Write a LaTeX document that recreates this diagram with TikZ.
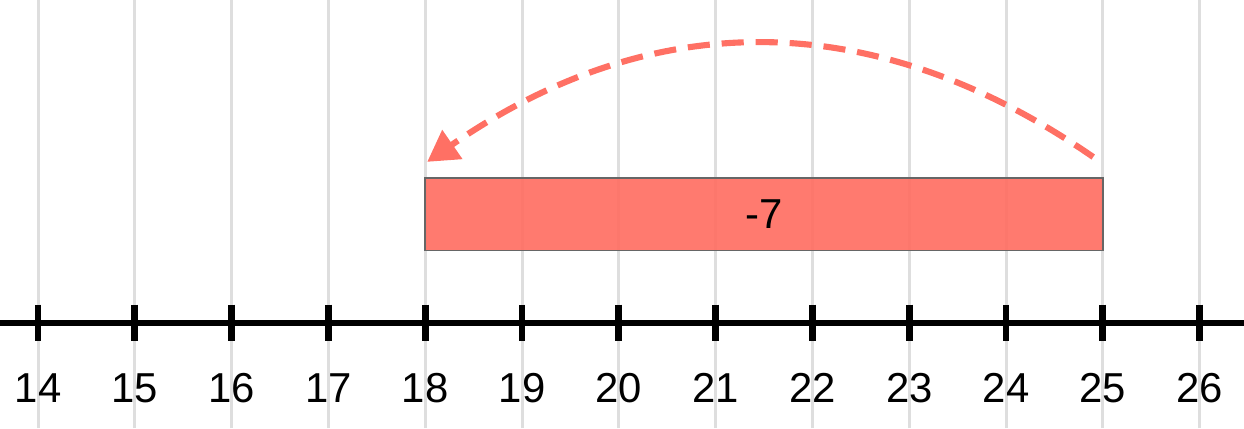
\documentclass[tikz,border=0pt]{standalone}
\usepackage{fontspec}
\setmainfont{Liberation Sans}
\usetikzlibrary{arrows.meta}
\definecolor{jumpred}{RGB}{255,112,100}
\definecolor{gridgray}{RGB}{222,222,222}
\begin{document}
\begin{tikzpicture}[font=\fontsize{12.3}{14}\selectfont]
\useasboundingbox (13.607,-1.085) rectangle (26.458,3.337);
\foreach \v in {14,...,26} {
  \draw[gridgray, line width=0.9pt] (\v,-1.085) -- (\v,3.337);
}
\node[draw=black!60, line width=0.5pt, fill=jumpred, fill opacity=0.93, text opacity=1, rectangle, minimum width=7cm, minimum height=0.75cm, inner sep=0pt] (jump) at (21.5,1.125) {-7};
\draw[line width=1.7pt] (13.607,0) -- (26.458,0);
\foreach \v in {14,...,26} {
  \draw[line width=2pt] (\v,0.19) -- (\v,-0.19);
  \node (n\v) at (\v,-0.67) {\v};
}
\coordinate (from) at (24.9,1.715);
\coordinate (to) at (18.02,1.665);
\draw[jumpred, line width=1.8pt, dash pattern=on 6.5pt off 3.5pt, -{Triangle[length=9pt,width=10pt]}] (from) .. controls (22.63,3.285) and (20.34,3.27) .. (to);
\end{tikzpicture}
\end{document}
